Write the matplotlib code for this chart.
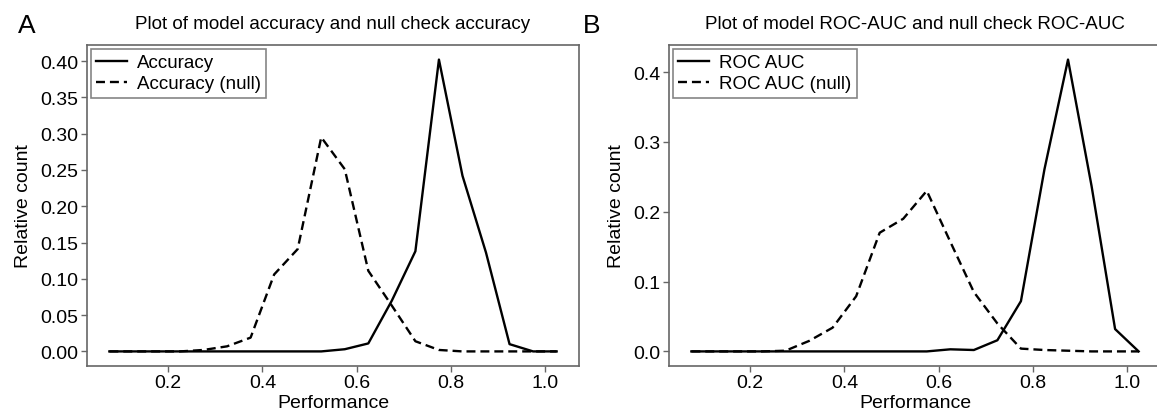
import numpy as np
import matplotlib
matplotlib.use("Agg")
import matplotlib.pyplot as plt

plt.rcParams["font.family"] = ["Liberation Sans", "DejaVu Sans"]

# bin centres shared by both panels
performance = [0.075, 0.125, 0.175, 0.225, 0.275, 0.325, 0.375, 0.425, 0.475, 0.525,
               0.575, 0.625, 0.675, 0.725, 0.775, 0.825, 0.875, 0.925, 0.975, 1.025]

accuracy = [0, 0, 0, 0, 0, 0, 0, 0, 0, 0,
            0.003, 0.011, 0.07, 0.138, 0.402, 0.242, 0.136, 0.01, 0, 0]
accuracy_null = [0, 0, 0, 0, 0.002, 0.007, 0.019, 0.106, 0.141, 0.295,
                 0.251, 0.111, 0.063, 0.014, 0.002, 0, 0, 0, 0, 0]

roc_auc = [0, 0, 0, 0, 0, 0, 0, 0, 0, 0,
           0, 0.003, 0.002, 0.016, 0.072, 0.261, 0.418, 0.237, 0.032, 0]
roc_auc_null = [0, 0, 0, 0, 0.001, 0.015, 0.034, 0.079, 0.17, 0.19,
                0.23, 0.157, 0.085, 0.04, 0.004, 0.002, 0.001, 0, 0, 0]

panels = [
    ("A", "Plot of model accuracy and null check accuracy",
     accuracy, accuracy_null, "Accuracy", "Accuracy (null)",
     [0.0, 0.05, 0.10, 0.15, 0.20, 0.25, 0.30, 0.35, 0.40], "%.2f"),
    ("B", "Plot of model ROC-AUC and null check ROC-AUC",
     roc_auc, roc_auc_null, "ROC AUC", "ROC AUC (null)",
     [0.0, 0.1, 0.2, 0.3, 0.4], "%.1f"),
]

W, H = 1157, 414
fig = plt.figure(figsize=(W / 100, H / 100), dpi=100)
frame = "#666666"

for i, (tag, title, real, null, lab, lab_null, yt, fmt) in enumerate(panels):
    left = (87 if i == 0 else 669) / W
    ax = fig.add_axes([left, (H - 367) / H, 492 / W, 321 / H])
    ax.plot(performance, real, color="black", lw=1.7, label=lab)
    ax.plot(performance, null, color="black", lw=1.7, ls=(0, (3.8, 2.1)), label=lab_null)
    ax.margins(x=0.05, y=0.05)
    ax.set_yticks(yt)
    ax.set_yticklabels([fmt % v for v in yt])
    ax.set_xticks([0.2, 0.4, 0.6, 0.8, 1.0])
    ax.set_xticklabels(["0.2", "0.4", "0.6", "0.8", "1.0"])
    ax.tick_params(direction="out", length=4, width=1, color=frame,
                   labelsize=14, pad=2, top=False, right=False)
    for s in ax.spines.values():
        s.set_color(frame)
        s.set_linewidth(1.2)
    ax.set_xlabel("Performance", fontsize=14, labelpad=2)
    ax.set_ylabel("Relative count", fontsize=14, labelpad=6)
    ax.set_title(title, fontsize=13.5, pad=12)
    leg = ax.legend(loc="upper left", fontsize=13.5, frameon=True, fancybox=False,
                    borderaxespad=0.2, borderpad=0.3, handlelength=1.65,
                    handletextpad=0.5, labelspacing=0.2)
    leg.get_frame().set_edgecolor(frame)
    leg.get_frame().set_linewidth(1.2)
    fig.text((18 if i == 0 else 583) / W, 1 - 33 / H, tag, fontsize=19,
             ha="left", va="baseline")

fig.savefig("out.png", dpi=100)
